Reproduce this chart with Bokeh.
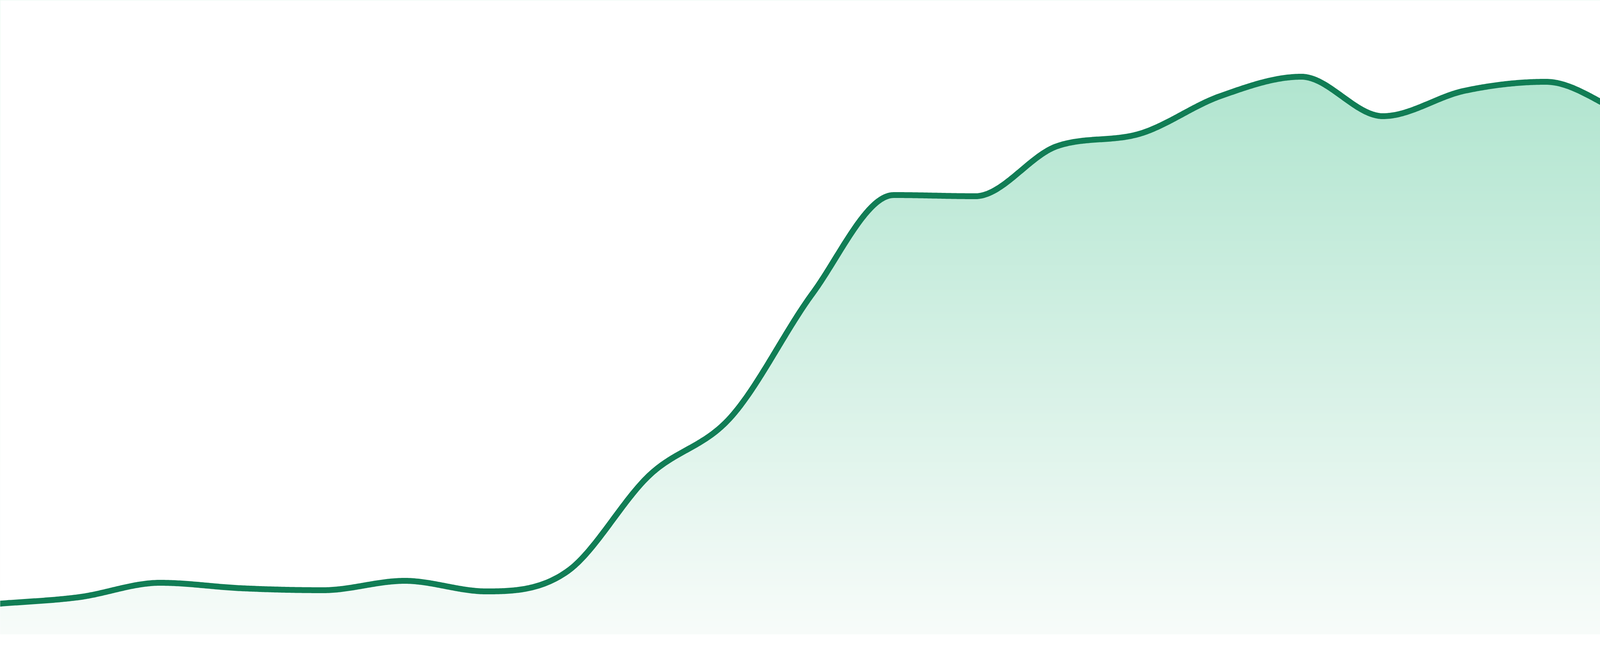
import numpy as np
from bokeh.plotting import figure
from bokeh.models import Range1d
from bokeh.embed import file_html
from bokeh.resources import INLINE

# ---- data ----
x_index = list(range(24))
values = [7.8, 9.5, 13.2, 11.8, 11.3, 13.7, 11.0, 16.2, 40.7, 55.6, 87.2, 112.5,
          112.2, 125.0, 128.1, 137.8, 142.8, 132.7, 139.2, 141.5, 133.0, 125.3,
          132.9, 134.8]

LINE_COLOR = "#117d55"
TOP_RGB = (176, 229, 207)
BOT_RGB = (248, 252, 250)


def monotone_curve(xs, ys, samples=60):
    """Fritsch-Carlson monotone cubic, drawn as cubic bezier segments."""
    xs = np.asarray(xs, float)
    ys = np.asarray(ys, float)
    n = len(xs)
    h = np.diff(xs)
    d = np.diff(ys) / h
    m = np.zeros(n)
    m[0] = d[0]
    m[-1] = d[-1]
    for i in range(1, n - 1):
        if np.sign(d[i - 1]) != np.sign(d[i]) or d[i - 1] == 0 or d[i] == 0:
            m[i] = 0.0
        else:
            m[i] = (d[i - 1] + d[i]) / 2
    for i in range(n - 1):
        if abs(d[i]) < 1e-12:
            m[i] = m[i + 1] = 0.0
            continue
        a = m[i] / d[i]
        b = m[i + 1] / d[i]
        mag = a * a + b * b
        if mag <= 9:
            continue
        tau = 3 / np.sqrt(mag)
        m[i] = a * tau * d[i]
        m[i + 1] = b * tau * d[i]
    out_x, out_y = [], []
    u = np.linspace(0, 1, samples)
    for i in range(n - 1):
        x0, x1 = xs[i], xs[i + 1]
        y0, y1 = ys[i], ys[i + 1]
        dx = (x1 - x0) / 3
        px = [x0, x0 + dx, x1 - dx, x1]
        py = [y0, y0 + dx * m[i], y1 - dx * m[i + 1], y1]
        b = [(1 - u) ** 3, 3 * (1 - u) ** 2 * u, 3 * (1 - u) * u ** 2, u ** 3]
        bx = sum(bi * pi for bi, pi in zip(b, px))
        by = sum(bi * pi for bi, pi in zip(b, py))
        if i > 0:
            bx, by = bx[1:], by[1:]
        out_x.append(bx)
        out_y.append(by)
    return np.concatenate(out_x), np.concatenate(out_y)


cx, cy = monotone_curve(x_index, values)

W, H = 4784, 1664
px_per_x = 4800 / 23.0
px_per_y = 10.0
x0 = 8 / px_per_x
x1 = x0 + W / px_per_x
y_top = (1632 - 8) / px_per_y
y_bot = y_top - H / px_per_y

p = figure(width=W, height=H, x_range=Range1d(x0, x1), y_range=Range1d(y_bot, y_top),
           output_backend="svg", toolbar_location=None, min_border=0,
           background_fill_color="white", border_fill_color="white")
p.axis.visible = False
p.grid.visible = False
p.outline_line_color = None

# vertical gradient under the area (from value 0 up to the plot top)
g_top_v = (1632 - 190) / px_per_y
rows = 1700
vs = np.linspace(0, y_top, rows)
frac = np.clip(vs / g_top_v, 0, 1.2)
img = np.zeros((rows, 2), dtype=np.uint32)
view = img.view(dtype=np.uint8).reshape((rows, 2, 4))
for k in range(3):
    col = BOT_RGB[k] + (TOP_RGB[k] - BOT_RGB[k]) * frac
    view[:, :, k] = np.clip(col, 0, 255).astype(np.uint8)[:, None]
view[:, :, 3] = 255
p.image_rgba(image=[img], x=x0 - 1, y=0, dw=(x1 - x0) + 2, dh=y_top + 1)

# white mask above the curve
p.varea(x=cx, y1=cy, y2=np.full_like(cy, y_top + 5), fill_color="white")

# the line
p.line(cx, cy, line_color=LINE_COLOR, line_width=15, line_join="round", line_cap="round")

open("out.html", "w").write(file_html(p, INLINE))
